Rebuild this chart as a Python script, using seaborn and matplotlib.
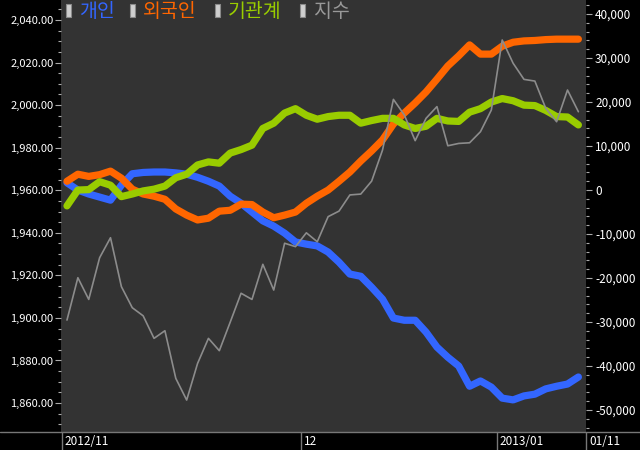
import pandas as pd
import matplotlib
matplotlib.use("Agg")
import matplotlib.pyplot as plt
import matplotlib.transforms as mtransforms
import seaborn as sns
from matplotlib.lines import Line2D
from matplotlib.patches import Rectangle
from matplotlib.ticker import MultipleLocator, FuncFormatter


# DADOS

# dias de pregão (KRX) 2012-11-01 ~ 2013-01-11
holidays = ["2012-12-19", "2012-12-25", "2012-12-31", "2013-01-01"]
dates = pd.bdate_range("2012-11-01", "2013-01-11")
dates = dates[~dates.isin(pd.to_datetime(holidays))]

# 지수 (eixo esquerdo)
kospi = [1899.0, 1918.9, 1908.7, 1928.3, 1937.7, 1914.7, 1904.8, 1901.0, 1890.4, 1894.0,
         1871.6, 1861.4, 1878.6, 1890.4, 1884.6, 1898.0, 1911.6, 1908.7, 1925.2, 1913.1,
         1935.1, 1933.5, 1940.0, 1935.8, 1947.6, 1950.2, 1957.8, 1958.2, 1964.3, 1978.9,
         2002.7, 1995.4, 1983.3, 1993.8, 1999.3, 1980.9, 1982.0, 1982.3, 1987.5, 1997.7,
         2030.6, 2019.7, 2012.1, 2011.3, 1998.5, 1992.2, 2007.1, 1996.9]

# 개인 / 외국인 / 기관계 (eixo direito)
individual = [1650, 0, -900, -1600, -2300, 1100, 3700, 4000, 4100, 4100,
              3900, 3600, 2900, 2000, 900, -1400, -3000, -5000, -7000, -8200,
              -9800, -11800, -12300, -12700, -14100, -16400, -19100, -19600, -22100, -24800,
              -29100, -29600, -29600, -32300, -35700, -38000, -40000, -44600, -43400, -44800,
              -47300, -47700, -46800, -46400, -45200, -44600, -44100, -42500]

foreign = [2000, 3600, 3100, 3500, 4300, 2700, 200, -900, -1400, -2100,
           -4300, -5700, -6800, -6400, -4800, -4600, -3200, -3300, -5000, -6300,
           -5700, -5000, -3000, -1400, 0, 2000, 4100, 6600, 8900, 11400,
           15000, 17500, 19800, 22300, 25200, 28200, 30500, 33000, 30900, 30900,
           32700, 33600, 33900, 34000, 34200, 34300, 34300, 34300]

institution = [-3600, 0, 100, 1900, 1100, -1500, -900, -200, 200, 900,
               2800, 3600, 5700, 6400, 6100, 8400, 9200, 10200, 14000, 15200,
               17500, 18500, 17000, 16100, 16700, 17000, 17000, 15200, 15800, 16300,
               16300, 14800, 14000, 14500, 16300, 15700, 15600, 17700, 18500, 20000,
               20800, 20300, 19300, 19200, 18100, 16700, 16600, 14800]

series_names = ["개인", "외국인", "기관계", "지수"]
series_colors = ["#3366ff", "#ff6600", "#99cc00", "#8c8c8c"]

df = pd.DataFrame({
    "idx": range(len(dates)),
    "개인": individual,
    "외국인": foreign,
    "기관계": institution,
    "지수": kospi,
})


# ESTILO

sns.set_theme(style="dark")
plt.rcParams["font.family"] = ["Noto Sans CJK KR", "DejaVu Sans"]

fig = plt.figure(figsize=(6.4, 4.5), dpi=100, facecolor="black")

ax = fig.add_axes([61 / 640, 18 / 450, 525 / 640, 432 / 450])
ax.set_facecolor("#333333")
ax2 = ax.twinx()


# LINHAS

for name, color in zip(series_names[:3], series_colors[:3]):
    sns.lineplot(
        data=df,
        x="idx",
        y=name,
        ax=ax,
        color=color,
        linewidth=5.2,
        solid_capstyle="round",
        solid_joinstyle="round",
    )

sns.lineplot(
    data=df,
    x="idx",
    y="지수",
    ax=ax2,
    color=series_colors[3],
    linewidth=1.2,
)


# EIXOS

ax.set_xlim(-0.55, len(dates) - 0.3)
ax.set_ylim(-55000, 43200)
ax2.set_ylim(1846.4, 2049.4)

ax.yaxis.tick_right()
ax2.yaxis.tick_left()

ax.yaxis.set_major_locator(MultipleLocator(10000))
ax.yaxis.set_minor_locator(MultipleLocator(2000))
ax.yaxis.set_major_formatter(FuncFormatter(lambda v, p: f"{v:,.0f}"))

ax2.yaxis.set_major_locator(MultipleLocator(20))
ax2.yaxis.set_minor_locator(MultipleLocator(5))
ax2.yaxis.set_major_formatter(FuncFormatter(lambda v, p: f"{v:,.2f}"))

for a in (ax, ax2):
    a.set_xlabel("")
    a.set_ylabel("")
    for s in a.spines.values():
        s.set_visible(False)
    a.tick_params(axis="y", which="major", length=4.5, width=0.8,
                  color="#aaaaaa", labelcolor="white", labelsize=8.5, pad=2)
    a.tick_params(axis="y", which="minor", length=2.5, width=0.8,
                  color="#aaaaaa")

ax.tick_params(axis="y", which="both", right=True, left=False)
ax2.tick_params(axis="y", which="both", left=True, right=False)
ax2.tick_params(axis="y", which="major", labelsize=8, pad=1)

# separadores de mês na faixa inferior
ticks = []
labels = []
for i, d in enumerate(dates):
    if i == 0 or d.month != dates[i - 1].month:
        ticks.append(i - 0.5)
        if i == 0 or d.year != dates[i - 1].year:
            labels.append(d.strftime("%Y/%m"))
        else:
            labels.append(d.strftime("%m").lstrip("0"))
ticks.append(ax.get_xlim()[1])
labels.append(dates[-1].strftime("%m/%d"))

ax.set_xticks(ticks)
ax.set_xticklabels(labels)
ax.tick_params(axis="x", which="major", direction="out", length=13,
               width=1, color="#777777", labelcolor="white",
               labelsize=8.5, pad=-10.5, bottom=True)

offset = mtransforms.ScaledTranslation(3 / 100, 0, fig.dpi_scale_trans)
for lab in ax.get_xticklabels():
    lab.set_horizontalalignment("left")
    lab.set_transform(lab.get_transform() + offset)

fig.add_artist(Line2D([0, 1], [18 / 450, 18 / 450], color="#777777",
                      linewidth=1, transform=fig.transFigure))


# LEGENDA

rect_x = [65.5, 129.5, 214.5, 299.5]
text_x = [79, 143, 228, 314]

for rx, tx, name, color in zip(rect_x, text_x, series_names, series_colors):
    fig.add_artist(Rectangle(
        (rx / 640, 1 - 17 / 450), 5 / 640, 12.5 / 450,
        transform=fig.transFigure,
        facecolor="#cfcfcf",
        edgecolor="#8a8a8a",
        linewidth=0.8,
    ))
    fig.text(
        tx / 640,
        1 - 11.5 / 450,
        name,
        color=color if name != "지수" else "#999999",
        fontsize=14,
        va="center",
        ha="left",
    )

fig.savefig("out.png", dpi=100, facecolor="black")
